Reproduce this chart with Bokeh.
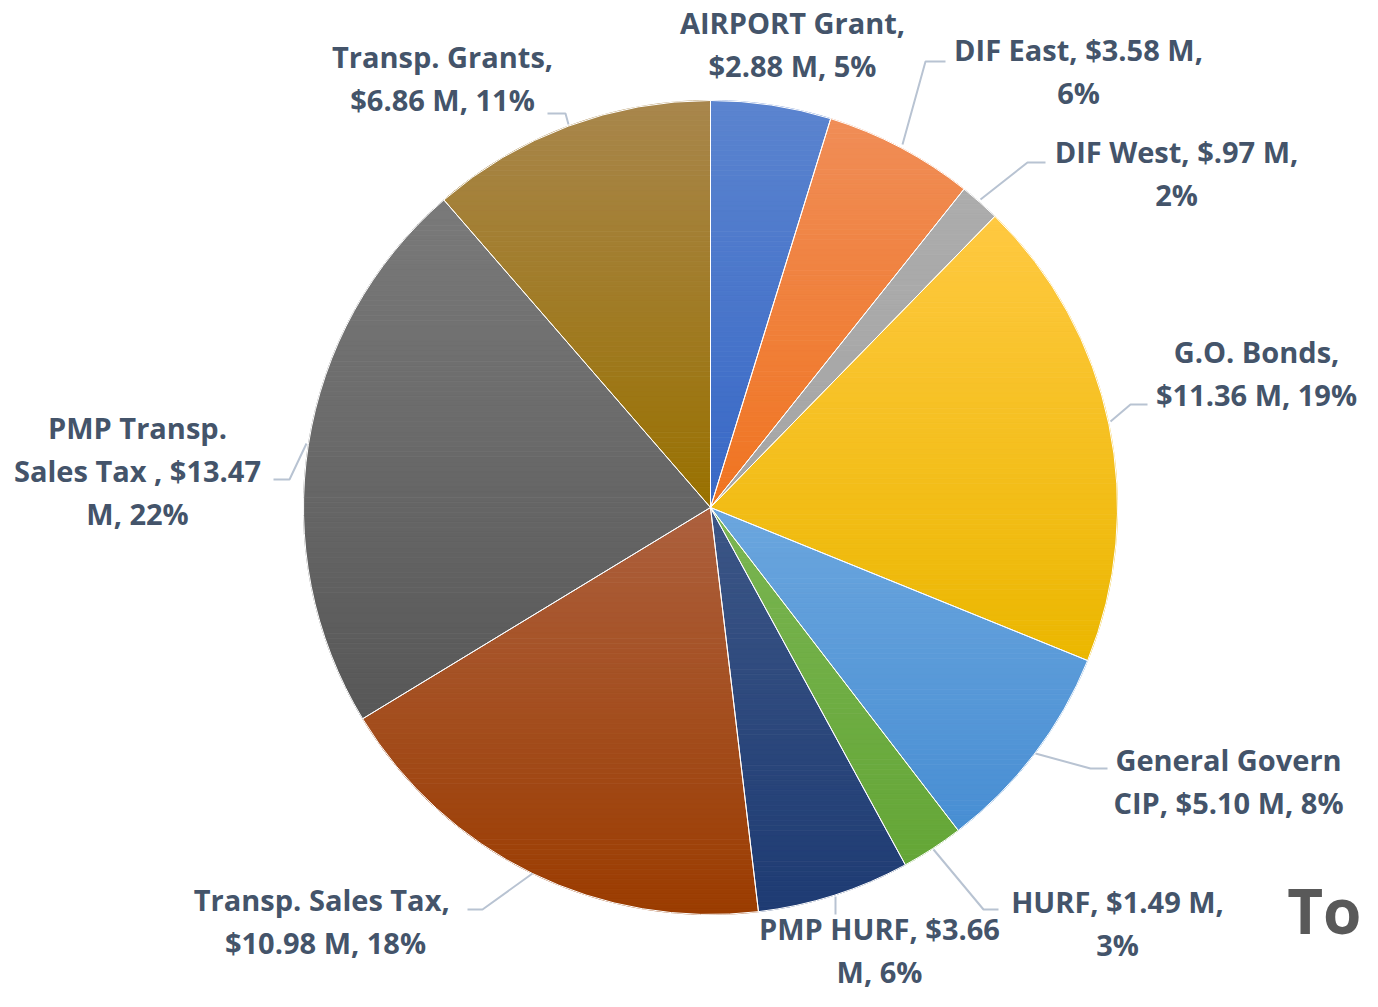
import math
from bokeh.plotting import figure
from bokeh.models import Range1d
from bokeh.core.properties import value
from bokeh.embed import file_html
from bokeh.resources import INLINE

# ---- data ----
categories = ["AIRPORT Grant", "DIF East", "DIF West", "G.O. Bonds", "General Govern CIP",
              "HURF", "PMP HURF", "Transp.  Sales Tax", "PMP Transp. Sales Tax", "Transp. Grants"]
amounts = [2.88, 3.58, 0.97, 11.36, 5.10, 1.49, 3.66, 10.98, 13.47, 6.86]
label_lines = [
    ["AIRPORT Grant,", "$2.88 M, 5%"],
    ["DIF East, $3.58 M,", "6%"],
    ["DIF West, $.97 M,", "2%"],
    ["G.O. Bonds,", "$11.36 M, 19%"],
    ["General Govern", "CIP, $5.10 M, 8%"],
    ["HURF, $1.49 M,", "3%"],
    ["PMP HURF, $3.66", "M, 6%"],
    ["Transp.  Sales Tax,", "$10.98 M, 18%"],
    ["PMP Transp.", "Sales Tax , $13.47", "M, 22%"],
    ["Transp. Grants,", "$6.86 M, 11%"],
]
title_text = "To"

# ---- styles / layout ----
colors_top = ["#5B84CF", "#F08D57", "#ACACAC", "#FFC941", "#6BA6DE",
              "#7AB552", "#3C5686", "#AC603E", "#7A7A7A", "#A8864C"]
colors_bottom = ["#3868C6", "#F07420", "#A5A5A5", "#EBB700", "#488ED3",
                 "#64A636", "#1E3B73", "#9B3C00", "#575757", "#997100"]
CX, CY, R = 710, -507, 407
TEXT_DY = 11  # correction between requested and rendered baseline
label_pos = [  # (center x, first visible baseline y in screen px)
    (792, 33), (1078, 60), (1176, 162), (1256, 362), (1228, 770),
    (1117, 912), (879, 939), (325, 910), (137, 438), (442, 67),
]
LINE_H = 43
leaders = [
    None,
    [(945, 61), (925, 61), (902, 144)],
    [(1045, 162), (1027, 162), (980, 199)],
    [(1147, 404), (1130, 404), (1110, 421)],
    [(1107, 768), (1090, 768), (1035, 753)],
    [(998, 909), (983, 909), (933, 849)],
    [(835, 914), (835, 896)],
    [(467, 909), (482, 909), (532, 873)],
    [(273, 479), (289, 479), (306, 443)],
    [(547, 113), (565, 113), (568, 124)],
]
TEXT_COLOR = "#44546A"
FONT = "Open Sans"

p = figure(width=1362, height=991, output_backend="svg", toolbar_location=None,
           x_range=Range1d(0, 1362), y_range=Range1d(-991, 0), min_border=0)
p.axis.visible = False
p.grid.visible = False
p.outline_line_color = None
p.background_fill_color = "white"

total = sum(amounts)
starts, ends = [], []
cum = 0.0
for a in amounts:
    starts.append(math.pi / 2 - 2 * math.pi * cum / total)
    cum += a
    ends.append(math.pi / 2 - 2 * math.pi * cum / total)


def hex_rgb(h):
    h = h.lstrip("#")
    return tuple(int(h[i:i + 2], 16) for i in (0, 2, 4))


def mix(c1, c2, t):
    a, b = hex_rgb(c1), hex_rgb(c2)
    return "#%02x%02x%02x" % tuple(int(round(a[k] + (b[k] - a[k]) * t)) for k in range(3))


def clip(poly, y0, keep_above):
    out = []
    n = len(poly)
    for i in range(n):
        A = poly[i - 1]
        B = poly[i]
        ina = A[1] >= y0 if keep_above else A[1] <= y0
        inb = B[1] >= y0 if keep_above else B[1] <= y0
        if inb:
            if not ina:
                t = (y0 - A[1]) / (B[1] - A[1])
                out.append((A[0] + t * (B[0] - A[0]), y0))
            out.append(B)
        elif ina:
            t = (y0 - A[1]) / (B[1] - A[1])
            out.append((A[0] + t * (B[0] - A[0]), y0))
    return out


# gradient-filled slices (vertical gradient per slice), built from the data angles
band_xs, band_ys, band_cols = [], [], []
for s, e, ct, cb in zip(starts, ends, colors_top, colors_bottom):
    n = max(4, int(abs(s - e) * 180 / math.pi * 2))
    poly = [(CX, CY)] + [(CX + R * math.cos(s + (e - s) * k / n), CY + R * math.sin(s + (e - s) * k / n))
                         for k in range(n + 1)]
    ymax = max(q[1] for q in poly)
    ymin = min(q[1] for q in poly)
    K = max(6, int((ymax - ymin) / 5))
    for j in range(K):
        y_hi = ymax - (ymax - ymin) * j / K
        y_lo = ymax - (ymax - ymin) * (j + 1) / K
        part = clip(clip(poly, y_lo, True), y_hi, False)
        if len(part) < 3:
            continue
        band_xs.append([q[0] for q in part])
        band_ys.append([q[1] for q in part])
        band_cols.append(mix(ct, cb, (j + 0.5) / K))

p.patches(band_xs, band_ys, fill_color=band_cols, line_color=band_cols, line_width=0.8)

p.wedge(x=CX, y=CY, radius=R, start_angle=starts, end_angle=ends, direction="clock",
        fill_alpha=0, line_color="white", line_width=1)

for ld in leaders:
    if ld is None:
        continue
    p.line([q[0] for q in ld], [-q[1] for q in ld], line_color="#B8C3D2", line_width=2)

xs, ys, ts = [], [], []
for (lx, ly), lines in zip(label_pos, label_lines):
    for i, t in enumerate(lines):
        xs.append(lx)
        ys.append(-(ly + i * LINE_H - TEXT_DY))
        ts.append(t)
p.text(x=xs, y=ys, text=ts, text_align="center", text_baseline="alphabetic",
       text_font=value(FONT), text_font_style="bold", text_font_size="29px",
       text_color=TEXT_COLOR)

p.text(x=[1361], y=[-(920 - TEXT_DY)], text=[title_text], text_align="right", text_baseline="alphabetic",
       text_font=value(FONT), text_font_style="bold", text_font_size="62px",
       text_color="#595959")

open("out.html", "w").write(file_html(p, INLINE))
